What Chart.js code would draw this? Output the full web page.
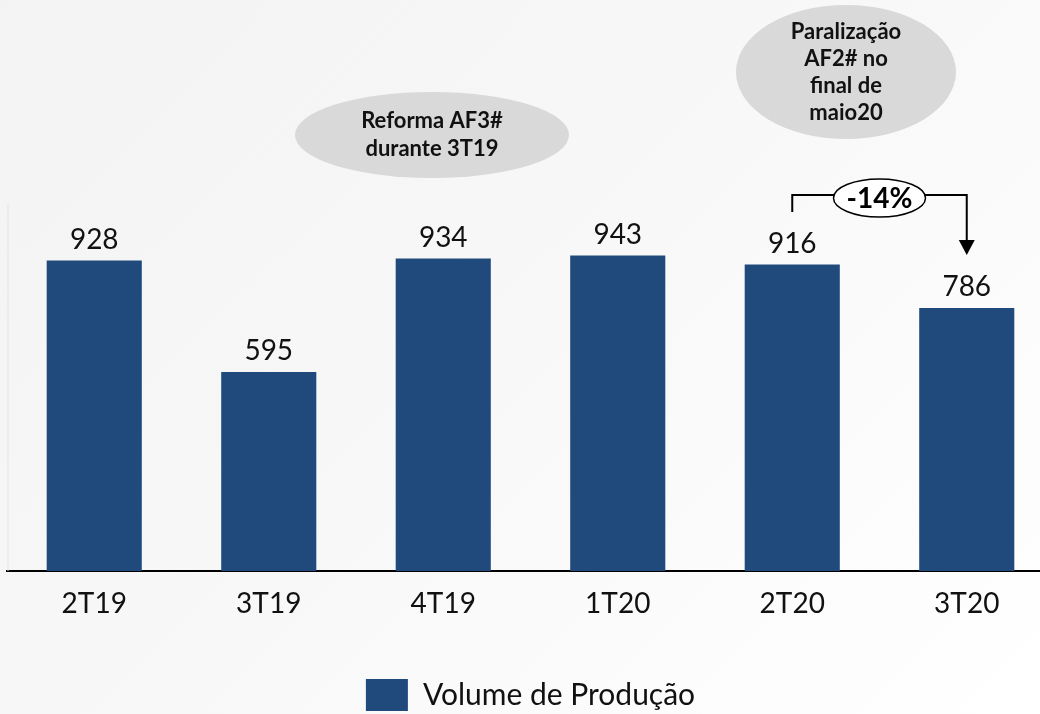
<!DOCTYPE html>
<html>
<head>
<meta charset="utf-8">
<script src="https://cdn.jsdelivr.net/npm/chart.js@4/dist/chart.umd.min.js"></script>
<style>
  html, body { margin: 0; padding: 0; overflow: hidden; width: 1040px; height: 714px; }
  body { background: linear-gradient(135deg, #f3f3f3 0%, #f8f8f8 50%, #ffffff 100%); }
  #wrap { width: 1060px; height: 721px; }
</style>
</head>
<body>
<div id="wrap"><canvas id="myChart" width="1060" height="721"></canvas></div>
<script>
var categories = ['2T19', '3T19', '4T19', '1T20', '2T20', '3T20'];
var volumes = [928, 595, 934, 943, 916, 786];
var seriesName = 'Volume de Produção';
var barColor = '#214a7c';

// data labels above each bar
var barLabels = {
    id: 'barLabels',
    afterDatasetsDraw: function(chart) {
        var ctx = chart.ctx;
        var meta = chart.getDatasetMeta(0);
        ctx.save();
        ctx.font = '28px Lato';
        ctx.fillStyle = '#111';
        ctx.textAlign = 'center';
        ctx.textBaseline = 'bottom';
        meta.data.forEach(function(bar, i) {
            ctx.fillText(volumes[i], bar.x, bar.y - 7);
        });
        ctx.restore();
    }
};

function ellipseText(ctx, cx, cy, rx, ry, lines, lh) {
    ctx.beginPath();
    ctx.ellipse(cx, cy, rx, ry, 0, 0, Math.PI * 2);
    ctx.fillStyle = '#d9d9d9';
    ctx.fill();
    ctx.fillStyle = '#111';
    ctx.font = 'bold 22px Lato';
    ctx.textAlign = 'center';
    ctx.textBaseline = 'middle';
    var y0 = cy - (lines.length - 1) * lh / 2;
    lines.forEach(function(t, i) { ctx.fillText(t, cx, y0 + i * lh); });
}

// callouts, bracket and faint left axis line
var callouts = {
    id: 'callouts',
    afterDraw: function(chart) {
        var ctx = chart.ctx;
        var area = chart.chartArea;
        var meta = chart.getDatasetMeta(0);
        ctx.save();

        ctx.strokeStyle = '#e4e4e4';
        ctx.lineWidth = 1;
        ctx.beginPath();
        ctx.moveTo(area.left + 1, area.top);
        ctx.lineTo(area.left + 1, area.bottom);
        ctx.stroke();

        ellipseText(ctx, 432, 135, 137, 43, ['Reforma AF3#', 'durante 3T19'], 28);
        ellipseText(ctx, 846, 72, 110, 67, ['Paralização', 'AF2# no', 'final de', 'maio20'], 27);

        var x1 = meta.data[4].x, x2 = meta.data[5].x;
        var yTop = 195, tip = 255;
        var cx = (x1 + x2) / 2, cy = 198;
        ctx.strokeStyle = '#000';
        ctx.lineWidth = 2;
        ctx.beginPath();
        ctx.moveTo(x1, 212);
        ctx.lineTo(x1, yTop);
        ctx.lineTo(cx - 44, yTop);
        ctx.moveTo(cx + 44, yTop);
        ctx.lineTo(x2, yTop);
        ctx.lineTo(x2, tip - 14);
        ctx.stroke();
        ctx.beginPath();
        ctx.moveTo(x2 - 8, tip - 15);
        ctx.lineTo(x2 + 8, tip - 15);
        ctx.lineTo(x2, tip);
        ctx.closePath();
        ctx.fillStyle = '#000';
        ctx.fill();

        ctx.beginPath();
        ctx.ellipse(cx, cy, 46, 19, 0, 0, Math.PI * 2);
        ctx.fillStyle = '#fff';
        ctx.fill();
        ctx.lineWidth = 1.5;
        ctx.stroke();
        ctx.fillStyle = '#000';
        ctx.font = 'bold 28px Lato';
        ctx.textAlign = 'center';
        ctx.textBaseline = 'middle';
        ctx.fillText('-14%', cx, cy + 1);

        ctx.restore();
    }
};

var config = {
    type: 'bar',
    data: {
        labels: categories,
        datasets: [{
            label: seriesName,
            data: volumes,
            backgroundColor: barColor,
            borderWidth: 0,
            categoryPercentage: 1,
            barPercentage: 0.545
        }]
    },
    options: {
        responsive: false,
        animation: false,
        layout: { padding: { top: 203, left: 7, right: 6, bottom: 0 } },
        plugins: {
            legend: {
                position: 'bottom',
                labels: {
                    boxWidth: 42,
                    boxHeight: 32,
                    padding: 3,
                    color: '#111',
                    font: { family: 'Lato', size: 30 }
                }
            },
            tooltip: { enabled: false }
        },
        scales: {
            x: {
                grid: { display: false },
                border: { display: true, color: '#000', width: 2 },
                ticks: { color: '#111', padding: 8, font: { family: 'Lato', size: 28 } },
                afterFit: function(scale) { scale.height = 105; }
            },
            y: {
                display: false,
                min: 0,
                max: 1100
            }
        }
    },
    plugins: [barLabels, callouts]
};

window.addEventListener('DOMContentLoaded', (event) => {
    var ctx = document.getElementById('myChart').getContext('2d');
    window.myBar = new Chart(ctx, config);
});
</script>
</body>
</html>
